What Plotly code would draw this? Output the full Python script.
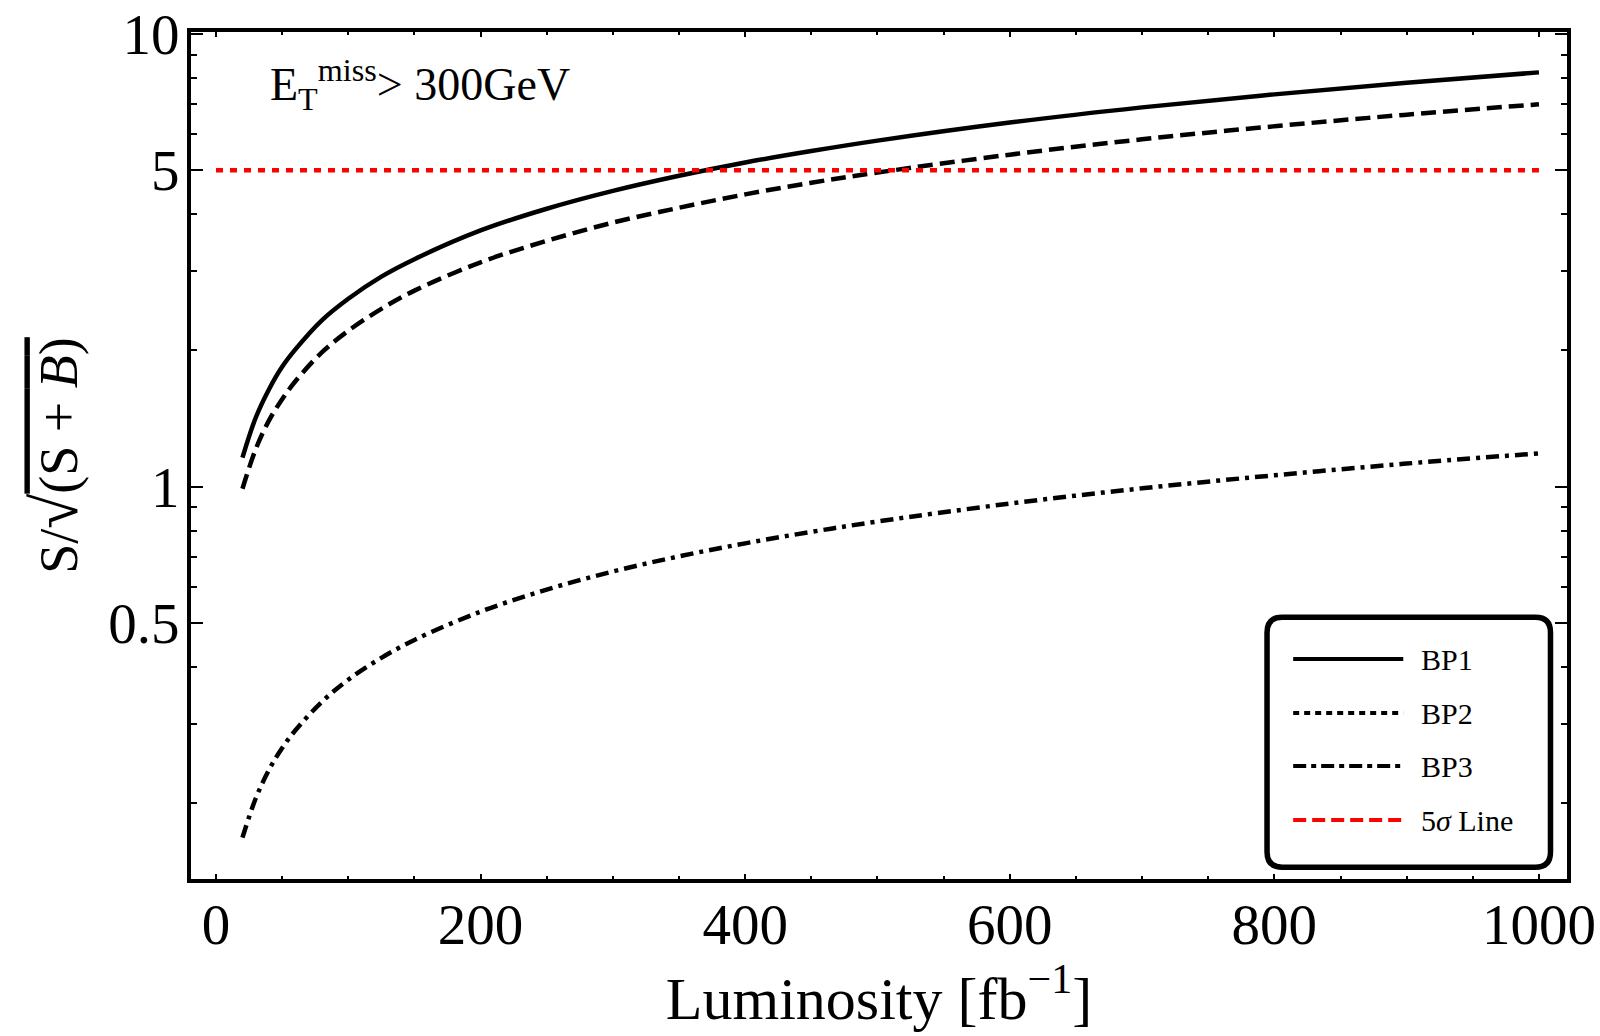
import plotly.graph_objects as go

# luminosity points [fb^-1] and significance
lumi = [20, 30, 40, 50, 60, 80, 100, 125, 150, 200, 250, 300, 350, 400, 450, 500, 600, 700, 800, 900, 1000]
bp1 = [1.16, 1.42, 1.64, 1.84, 2.01, 2.33, 2.60, 2.91, 3.18, 3.68, 4.11, 4.50, 4.86, 5.20, 5.51, 5.81, 6.37, 6.88, 7.35, 7.80, 8.22]
bp2 = [0.99, 1.21, 1.40, 1.56, 1.71, 1.98, 2.21, 2.47, 2.71, 3.13, 3.49, 3.83, 4.13, 4.42, 4.69, 4.94, 5.41, 5.85, 6.25, 6.63, 6.99]
bp3 = [0.168, 0.205, 0.237, 0.265, 0.290, 0.335, 0.375, 0.419, 0.459, 0.530, 0.593, 0.650, 0.702, 0.750, 0.795, 0.838, 0.918, 0.992, 1.06, 1.125, 1.185]
sigma_x = [0, 1000]
sigma_y = [5, 5]

y_ticks = [0.5, 1, 5, 10]
y_ticktext = ['0.5', '1', '5', '10']
y_minor = [0.2, 0.3, 0.4, 0.6, 0.7, 0.8, 0.9, 2, 3, 4, 6, 7, 8, 9]

legend_names = ['BP1', 'BP2', 'BP3', '5<i>σ</i> Line']
legend_colors = ['black', 'black', 'black', 'red']
legend_dash = ['solid', '6px,5px', '13px,5px,5px,5px', '13px,6px']

serif = 'Liberation Serif'

fig = go.Figure()
fig.add_trace(go.Scatter(x=lumi, y=bp1, mode='lines', line=dict(color='black', width=4.5, shape='spline')))
fig.add_trace(go.Scatter(x=lumi, y=bp2, mode='lines', line=dict(color='black', width=4.5, dash='15px,7px', shape='spline')))
fig.add_trace(go.Scatter(x=lumi, y=bp3, mode='lines', line=dict(color='black', width=4.5, dash='13px,6px,4px,6px', shape='spline')))
fig.add_trace(go.Scatter(x=sigma_x, y=sigma_y, mode='lines', line=dict(color='red', width=4.5, dash='7px,7px')))

fig.update_layout(
    width=1600, height=1036,
    margin=dict(l=191, r=33, t=32, b=157, autoexpand=False),
    paper_bgcolor='white', plot_bgcolor='white',
    showlegend=False,
    font=dict(family=serif, color='black'),
)

fig.update_xaxes(
    range=[-18.9, 1021.2], dtick=200, tick0=0, automargin=False,
    showline=True, linewidth=4, linecolor='black', mirror='allticks',
    ticks='inside', ticklen=5, tickwidth=2, tickcolor='black',
    minor=dict(dtick=50, ticks='inside', ticklen=3, tickwidth=1.5, tickcolor='black'),
    showgrid=False, zeroline=False,
    tickfont=dict(size=57, family=serif), ticklabelstandoff=-7,
    title=dict(text='Luminosity [fb<sup>−1</sup>]', font=dict(size=60, family=serif), standoff=8),
)

fig.update_yaxes(
    type='log', range=[-0.866, 1.004], automargin=False,
    tickmode='array', tickvals=y_ticks, ticktext=y_ticktext,
    showline=True, linewidth=4, linecolor='black', mirror='allticks',
    ticks='inside', ticklen=12, tickwidth=1.5, tickcolor='black',
    minor=dict(tickmode='array', tickvals=y_minor, ticks='inside', ticklen=6, tickwidth=1.5, tickcolor='black'),
    showgrid=False, zeroline=False,
    tickfont=dict(size=57, family=serif), ticklabelstandoff=-4,
    title=dict(text="S/<span style='font-size:64px'>√</span><span style='text-decoration:overline'>(S + <i>B</i>)</span>",
               font=dict(size=54, family=serif), standoff=14),
)

fig.add_annotation(
    x=0.056, y=0.938, xref='paper', yref='paper', xanchor='left', yanchor='middle',
    text='E<sub>T</sub><sup>miss</sup>> 300GeV', showarrow=False,
    font=dict(size=46, family=serif),
)

# legend box with rounded corners
x0, x1, y0, y1 = 0.782, 0.988, 0.014, 0.309
rx, ry = 0.011, 0.018
box = (f'M {x0+rx},{y0} L {x1-rx},{y0} Q {x1},{y0} {x1},{y0+ry} L {x1},{y1-ry} Q {x1},{y1} {x1-rx},{y1} '
       f'L {x0+rx},{y1} Q {x0},{y1} {x0},{y1-ry} L {x0},{y0+ry} Q {x0},{y0} {x0+rx},{y0} Z')
fig.add_shape(type='path', path=box, xref='paper', yref='paper', line=dict(color='black', width=5.5), fillcolor='white')

row_y = [0.2597, 0.1959, 0.1334, 0.0696]
for name, col, dash, yy in zip(legend_names, legend_colors, legend_dash, row_y):
    fig.add_shape(type='line', xref='paper', yref='paper', x0=0.801, x1=0.881, y0=yy, y1=yy,
                  line=dict(color=col, width=4, dash=dash))
    fig.add_annotation(x=0.8924, y=yy, xref='paper', yref='paper', xanchor='left', yanchor='middle',
                       text=name, showarrow=False, font=dict(size=30, family=serif))

# drop the default page margin so the figure sits at the window origin
fig.write_html("out.html", config={'displayModeBar': False},
               post_script="document.body.style.margin='0';")
